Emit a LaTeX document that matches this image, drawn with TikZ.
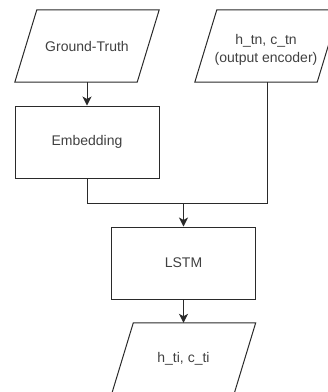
\documentclass[tikz,border=0pt]{standalone}
\usepackage{fontspec}
\setmainfont{Liberation Sans}
\usetikzlibrary{calc,arrows.meta}
\definecolor{txt}{HTML}{404040}
\definecolor{ln}{HTML}{2A2A2A}
\tikzset{
  base/.style={minimum width=144pt, minimum height=72pt, inner sep=0pt, align=center,
    text=txt, font=\fontsize{14}{18}\selectfont},
  box/.style={base, draw=ln, line width=1pt},
  para/.style={base, draw=none},
  edge/.style={draw=ln, line width=1pt},
  arr/.style={edge, -{Stealth[length=9pt,width=9pt,inset=2.5pt]}},
}
\newcommand{\drawpara}[1]{%
  \draw[edge, line join=miter] (#1.south west) -- ($(#1.north west)+(22pt,0)$) -- (#1.north east) -- ($(#1.south east)-(22pt,0)$) -- cycle;}
\begin{document}
\begin{tikzpicture}[x=1pt,y=-1pt]
  \useasboundingbox (0,0) rectangle (328,392);
  \node[para] (gt) at (87,46) {Ground-Truth};
  \drawpara{gt}
  \node[para] (enc) at (267,46) {};
  \drawpara{enc}
  \node[text=txt, align=center, font=\fontsize{14}{18}\selectfont, inner sep=0pt] (enct) at (266,50) {h\_tn, c\_tn\\(output encoder)};
  \node[box] (emb) at (87,142) {Embedding};
  \node[box] (lstm) at (183.5,263) {LSTM};
  \node[para] (out) at (183.5,359) {h\_ti, c\_ti};
  \drawpara{out}
  \coordinate (j) at (183.5,203);
  \draw[arr] (gt.south) -- (emb.north);
  \draw[edge] (emb.south) |- (j);
  \draw[edge] (enc.south) |- (j);
  \draw[arr] (j) -- (lstm.north);
  \draw[arr] (lstm.south) -- (out.north);
\end{tikzpicture}
\end{document}
